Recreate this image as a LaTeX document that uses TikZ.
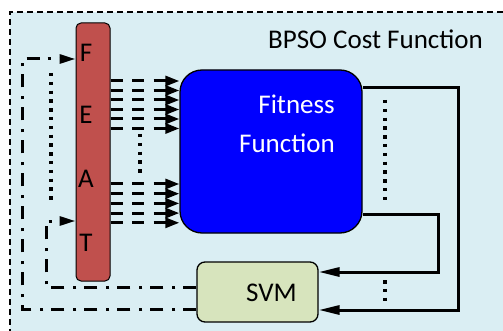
\documentclass[tikz,border=0pt]{standalone}
\usepackage{fontspec}
\setmainfont{Carlito}
\usetikzlibrary{arrows.meta}
\usetikzlibrary{positioning}
\usetikzlibrary{calc}
\definecolor{bgblue}{HTML}{DAEEF3}
\definecolor{featred}{HTML}{C0504D}
\definecolor{svmgreen}{HTML}{D7E4BD}
\tikzstyle{block}=[draw=black, line width=1.3pt, inner sep=0pt]
\tikzstyle{txt}=[font=\fontsize{27}{32}\selectfont, inner sep=0pt]
\tikzstyle{edge}=[draw, line width=3pt, -{Triangle[length=21pt,width=9pt]}]
\tikzstyle{featedge}=[draw, line width=3pt, dash pattern=on 12pt off 9.5pt, -{Triangle[length=14pt,width=10pt]}]
\tikzstyle{backedge}=[draw, line width=3pt, dash pattern=on 13pt off 8pt on 3pt off 9pt, -{Triangle[length=16pt,width=9pt]}]
\tikzstyle{dots}=[line width=3.5pt, dash pattern=on 3.5pt off 5.3pt]

\begin{document}
\begin{tikzpicture}[x=1pt, y=-1pt]

  \useasboundingbox (0,0) rectangle (503,331);

  % outer frame
  \fill[bgblue] (10,12) rectangle (515,345);
  \draw[line width=1.3pt, dash pattern=on 6pt off 4pt] (10,345) -- (10,12) -- (515,12);
  \node[txt, anchor=base west] (title) at (268,49) {BPSO Cost Function};

  % blocks
  \node[block, line width=1pt, fill=featred, rounded corners=5pt, minimum width=34pt, minimum height=258pt] (feat) at (93,152) {};
  \node[block, fill=blue, rounded corners=22pt, minimum width=182pt, minimum height=163pt] (fit) at (271,151.5) {};
  \node[block, fill=svmgreen, rounded corners=8pt, minimum width=121pt, minimum height=60pt] (svm) at (257.5,292) {};

  \foreach \y/\name/\label in {62/lf/F, 124/le/E, 188/la/A, 251/lt/T}
          \node[txt, anchor=base] (\name) at (86,\y) {\label};

  \node[txt, anchor=base east, text=white] (fitA) at (335,114) {Fitness};
  \node[txt, anchor=base east, text=white] (fitB) at (335,153) {Function};
  \node[txt, anchor=base] (svmlabel) at (271.5,301) {SVM};

  % features to fitness
  \foreach \y in {81, 90.5, 100, 109.5, 119, 128.5, 184, 193.7, 203.4, 213.1, 222.8}
          \draw[featedge] (feat.east |- {(0,\y)}) -- (fit.west |- {(0,\y)});

  % fitness to svm
  \draw[edge] (fit.east |- {(0,88)}) -- (458,88) -- (458,310) -- (svm.east |- {(0,310)});
  \draw[edge] (fit.east |- {(0,214)}) -- (438,214) -- (438,272) -- (svm.east |- {(0,272)});

  % svm back to features
  \draw[backedge] (svm.west |- {(0,287)}) -- (46,287) -- (46,221) -- (feat.west |- {(0,221)});
  \draw[backedge] (svm.west |- {(0,309)}) -- (22,309) -- (22,59) -- (feat.west |- {(0,59)});

  % ellipses
  \draw[dots] (51,73) -- (51,201);
  \draw[dots] (140,134) -- (140,174);
  \draw[dots] (385,100) -- (385,200);
  \draw[dots] (385,280) -- (385,302);

\end{tikzpicture}
\end{document}
